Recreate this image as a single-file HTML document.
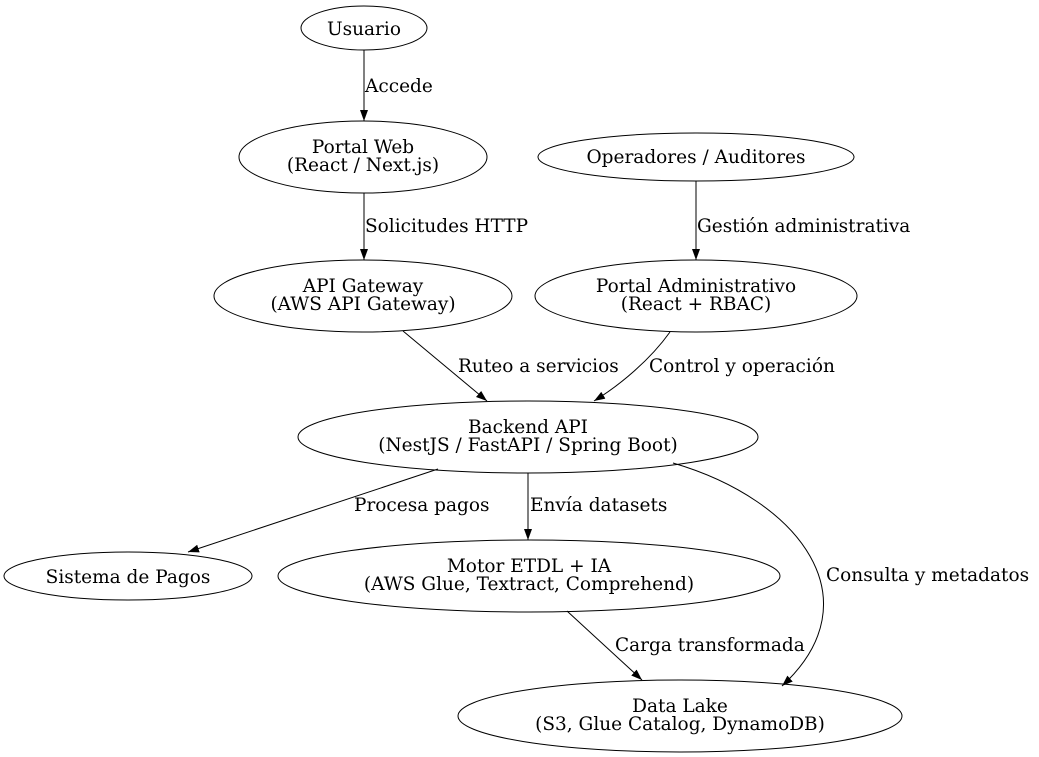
<!DOCTYPE html>
<html><head><meta charset="utf-8"><style>
html,body{margin:0;padding:0;background:#fff;}
svg{display:block;}
text{font-family:"DejaVu Serif",serif;font-size:18.5px;fill:#000;}
</style></head><body>
<svg width="1039" height="757" viewBox="0 0 1039 757" xmlns="http://www.w3.org/2000/svg">
<defs>
<marker id="a" viewBox="0 0 11 10" refX="11" refY="5" markerWidth="11" markerHeight="10" markerUnits="userSpaceOnUse" orient="auto">
<path d="M0,1 L11,5 L0,9 Z" fill="#000"/>
</marker>
</defs>
<g fill="none" stroke="#000" stroke-width="1">
<ellipse cx="364" cy="28" rx="63" ry="22"/>
<ellipse cx="363" cy="157" rx="124" ry="36"/>
<ellipse cx="696" cy="157" rx="158" ry="24"/>
<ellipse cx="363" cy="296" rx="149" ry="36"/>
<ellipse cx="696" cy="296" rx="161" ry="36"/>
<ellipse cx="528" cy="437" rx="230" ry="36"/>
<ellipse cx="128" cy="576" rx="124" ry="24"/>
<ellipse cx="529" cy="576" rx="251" ry="36"/>
<ellipse cx="680" cy="716" rx="222" ry="36"/>

<path d="M364,50 L364,121" marker-end="url(#a)"/>
<path d="M364,193 L364,260" marker-end="url(#a)"/>
<path d="M696,181 L696,260" marker-end="url(#a)"/>
<path d="M403,331 L487,401" marker-end="url(#a)"/>
<path d="M670,332 C650,360 620,385 594,401" marker-end="url(#a)"/>
<path d="M438,469 L188,552" marker-end="url(#a)"/>
<path d="M528,473 L528,540" marker-end="url(#a)"/>
<path d="M673,463 C800,500 875,600 782,686" marker-end="url(#a)"/>
<path d="M567,611 L642,680" marker-end="url(#a)"/>
</g>
<g text-anchor="middle">
<text x="364" y="35">Usuario</text>
<text x="363" y="153">Portal Web</text>
<text x="363" y="171">(React / Next.js)</text>
<text x="696" y="163">Operadores / Auditores</text>
<text x="363" y="292">API Gateway</text>
<text x="363" y="310">(AWS API Gateway)</text>
<text x="696" y="292">Portal Administrativo</text>
<text x="696" y="310">(React + RBAC)</text>
<text x="528" y="433">Backend API</text>
<text x="528" y="451">(NestJS / FastAPI / Spring Boot)</text>
<text x="128" y="583">Sistema de Pagos</text>
<text x="529" y="572">Motor ETDL + IA</text>
<text x="529" y="590">(AWS Glue, Textract, Comprehend)</text>
<text x="680" y="712">Data Lake</text>
<text x="680" y="730">(S3, Glue Catalog, DynamoDB)</text>
</g>
<g>
<text x="365" y="92">Accede</text>
<text x="365" y="232">Solicitudes HTTP</text>
<text x="697" y="232">Gestión administrativa</text>
<text x="458" y="372">Ruteo a servicios</text>
<text x="649" y="372">Control y operación</text>
<text x="354" y="511">Procesa pagos</text>
<text x="530" y="511">Envía datasets</text>
<text x="826" y="581">Consulta y metadatos</text>
<text x="615" y="651">Carga transformada</text>
</g>
</svg>
</body></html>
